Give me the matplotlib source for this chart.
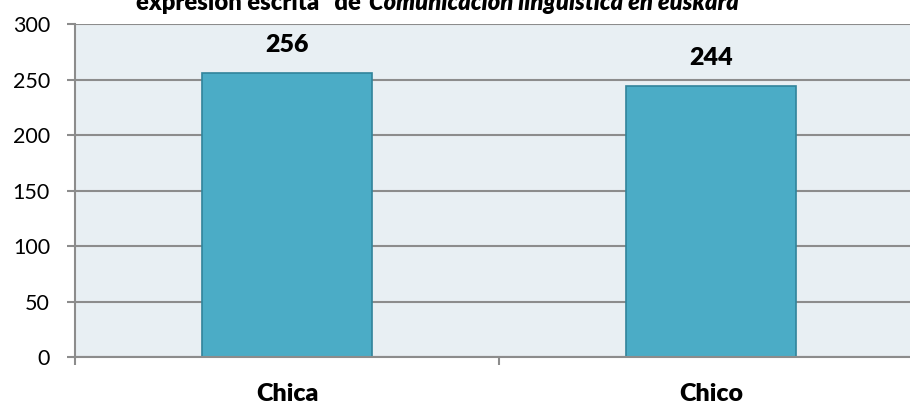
import matplotlib
matplotlib.use("Agg")
import matplotlib.pyplot as plt

categories = ["Chica", "Chico"]
values = [256, 244]
yticks = [0, 50, 100, 150, 200, 250, 300]
title_plain = "expresión escrita\u201d de"
title_italic = "Comunicación lingüística en euskara"

plt.rcParams['font.family'] = ['Lato', 'DejaVu Sans']

W, H = 910, 405
fig = plt.figure(figsize=(W / 100, H / 100), dpi=100)
fig.patch.set_facecolor('white')
ax = fig.add_axes([75 / W, (H - 357) / H, 848 / W, 333 / H])
ax.set_facecolor('#E8EFF3')

grid_c = '#8C8C8C'
bold = 'heavy'
x = list(range(len(categories)))
ax.set_axisbelow(True)
ax.yaxis.grid(True, color=grid_c, linewidth=1.5)
bars = ax.bar(x, values, width=0.4, color='#4BACC6', edgecolor='#31849B', linewidth=1.2, zorder=3)

ax.set_xlim(-0.5, len(categories) - 0.5)
ax.set_ylim(0, 300)
ax.set_yticks(yticks)
ax.set_yticklabels([str(v) for v in yticks], fontsize=15.5)

ax.set_xticks(x)
ax.set_xticklabels(categories, fontsize=18, fontweight=bold)
ax.tick_params(axis='x', which='major', length=0, pad=19)
ax.set_xticks([i - 0.5 for i in range(len(categories) + 1)], minor=True)
ax.tick_params(axis='x', which='minor', length=6, width=1.5, color=grid_c, direction='out')
ax.tick_params(axis='y', length=6, width=1.5, color=grid_c, pad=12, direction='out')

for s in ['top', 'right']:
    ax.spines[s].set_visible(False)
for s in ['left', 'bottom']:
    ax.spines[s].set_color(grid_c)
    ax.spines[s].set_linewidth(1.5)
ax.spines['bottom'].set_zorder(4)

for xi, v in zip(x, values):
    ax.annotate(str(v), xy=(xi, v), xytext=(0, 17), textcoords='offset pixels',
                ha='center', va='bottom', fontsize=18, fontweight=bold)

t1 = fig.text(136 / W, (H - 9.5) / H, title_plain, ha='left', va='baseline',
              fontsize=17.1, fontweight=bold)
fig.canvas.draw()
ax.annotate(title_italic, xy=(1, 0), xycoords=t1, xytext=(8, 0), textcoords='offset pixels',
            ha='left', va='bottom', fontsize=17.1, fontweight=bold, fontstyle='italic',
            annotation_clip=False)

fig.savefig('out.png', dpi=100)
